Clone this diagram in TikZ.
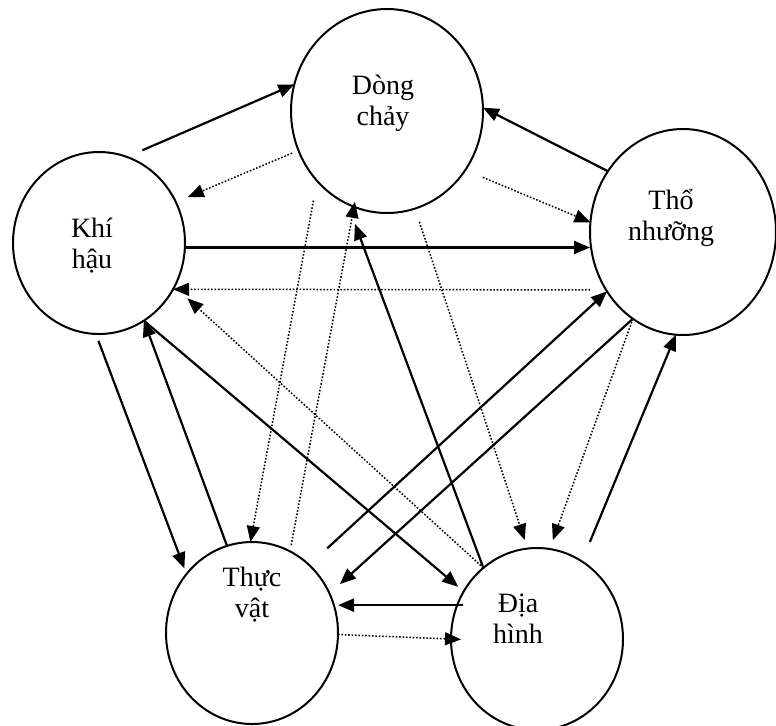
\documentclass[tikz,border=0pt]{standalone}
\usepackage{fontspec}
\setmainfont{Liberation Serif}
\usetikzlibrary{shapes.geometric,arrows.meta}

\begin{document}
\begin{tikzpicture}[x=0.5pt,y=-0.5pt,
  vong/.style={ellipse,draw,line width=1pt,inner sep=0pt,outer sep=0pt},
  chu/.style={align=center,font=\fontsize{14}{15.5}\selectfont,inner sep=0pt},
  lien/.style={line width=1.1pt,-{Triangle[length=8pt,width=6.5pt]}},
  cham/.style={line width=0.75pt,dash pattern=on 0.8pt off 0.9pt,-{Triangle[length=8pt,width=6.5pt]}}]
  \useasboundingbox (0,0) rectangle (776,725);
  % cac vong tron
  \foreach \n/\x/\y/\a/\b in {dc/387/111/96/102, kh/99/243/86/91, tn/683/232/93/103, tv/252/633/86/91, dh/537/639/86/91}
    { \node[vong,minimum width=\a pt,minimum height=\b pt] (\n) at (\x,\y) {}; }
  \node[chu] (dct) at (383,103) {Dòng\\chảy};
  \node[chu] (kht) at (92,246) {Khí\\hậu};
  \node[chu] (tnt) at (671,218) {Thổ\\nhưỡng};
  \node[chu] (tvt) at (252,595) {Thực\\vật};
  \node[chu] (dht) at (518,619) {Địa\\hình};
  % mui ten lien
  \draw[lien,shorten <=8.4pt] (kh.72) -- (dc.164);
  \draw[lien] (tn.141) -- (dc.2);
  \draw[lien] (kh.-3) -- (kh.-3 -| tn.west);
  \draw[lien,shorten <=3.7pt,shorten >=3pt] (kh.-92) -- (tv.138);
  \draw[lien] (tv.106) -- (kh.-60);
  \draw[lien,shorten >=3.6pt] (kh.-60) -- (dh.147);
  \draw[lien,shorten >=10.6pt] (dh.127) -- (dc.-113);
  \draw[lien,shorten <=12.3pt] (tv.50) -- (tn.218);
  \draw[lien,shorten >=7pt] (tn.240) -- (tv.27);
  \draw[lien,shorten <=-3pt] (dh.157) -- (dh.157 -| tv.east);
  \draw[lien,shorten <=10.5pt] (dh.60) -- (tn.266);
  % mui ten cham
  \draw[cham,shorten <=3.5pt,shorten >=6.5pt] (dc.204) -- (kh.28);
  \draw[cham,shorten <=9.5pt] (dc.-37) -- (tn.174);
  \draw[cham,shorten <=8pt] (tn.217) -- (kh.-32);
  \draw[cham,shorten >=8.7pt] (dh.127) -- (kh.-30.5);
  \draw[cham,shorten <=10pt] (dc.-135.5) -- (tv.91);
  \draw[cham,shorten <=3.2pt,shorten >=-2.5pt] (tv.65) -- (dc.-109);
  \draw[cham,shorten <=7pt,shorten >=4.5pt] (dc.-74) -- (dh.96);
  \draw[cham,shorten >=4.7pt] (tn.240) -- (dh.82);
  \draw[cham,shorten >=-5pt] (tv.-1) -- (dh.180);
\end{tikzpicture}
\end{document}
